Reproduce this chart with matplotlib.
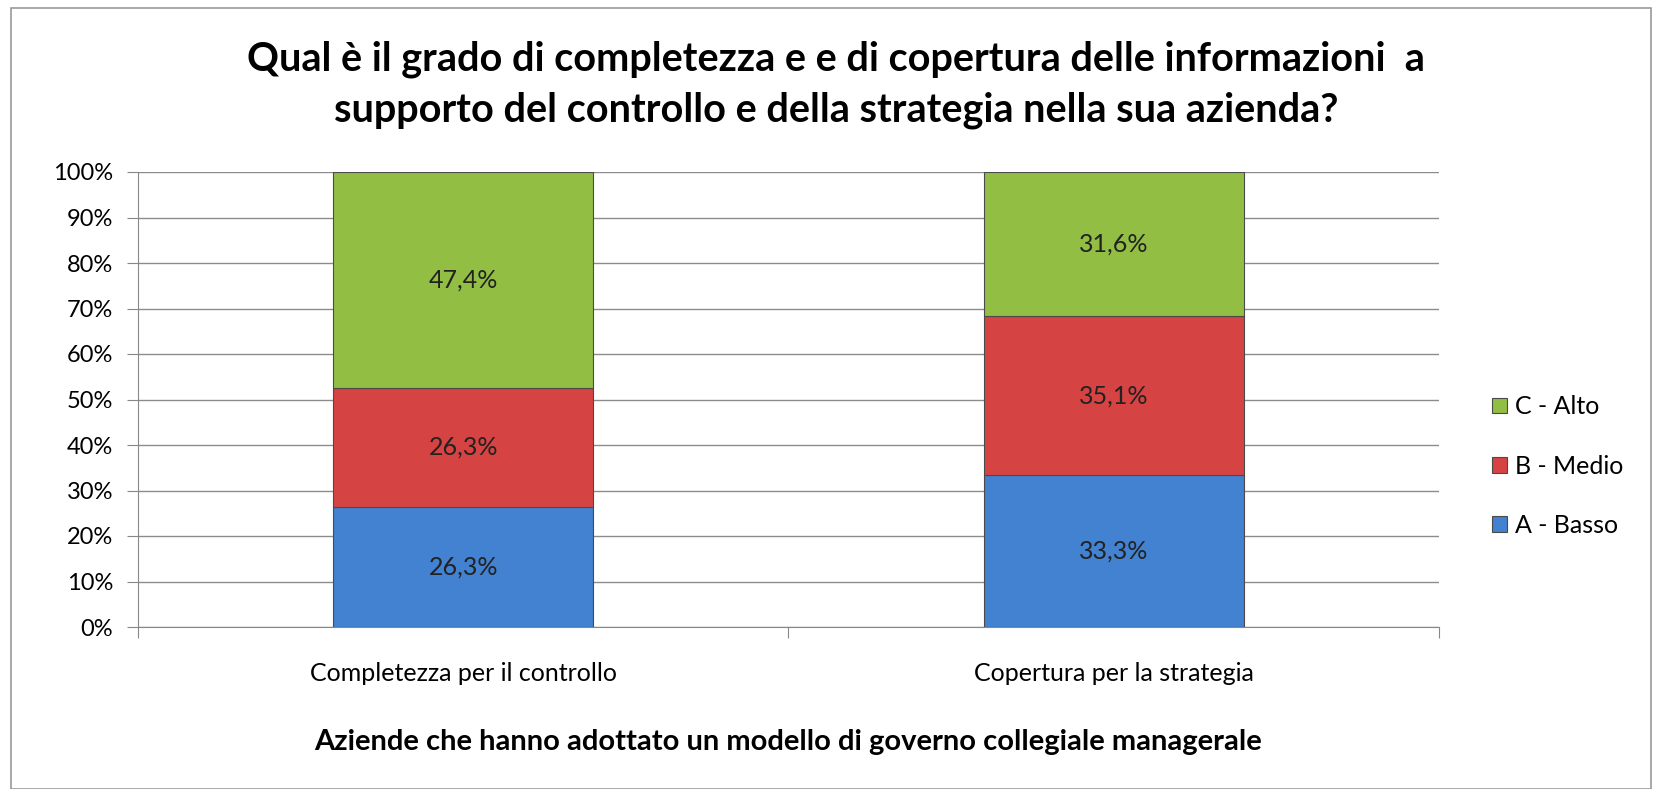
import matplotlib.pyplot as plt
from matplotlib.patches import Rectangle

categories = ['Completezza per il controllo', 'Copertura per la strategia']
series = ['A - Basso', 'B - Medio', 'C - Alto']
basso = [26.3, 33.3]
medio = [26.3, 35.1]
alto = [47.4, 31.6]
colors = ['#4282D0', '#D64343', '#92BE44']

plt.rcParams['font.family'] = ['Lato', 'DejaVu Sans']

fig = plt.figure(figsize=(16.65, 7.89), dpi=100)
ax = fig.add_axes([138 / 1665, 1 - 627 / 789, 1301 / 1665, 455 / 789])

x = range(len(categories))
bottom = [0, 0]
handles = []
for name, vals, col in zip(series, [basso, medio, alto], colors):
    bars = ax.bar(x, vals, width=0.4, bottom=bottom, color=col,
                  edgecolor='#4a4a4a', linewidth=0.8, zorder=3, label=name)
    handles.append(bars)
    for xi, v, b in zip(x, vals, bottom):
        ax.text(xi, b + v / 2, ('%.1f%%' % v).replace('.', ','),
                ha='center', va='center', fontsize=18, color='#222222', zorder=4)
    bottom = [b + v for b, v in zip(bottom, vals)]

ax.set_xlim(-0.5, 1.5)
ax.set_ylim(0, 100)
ax.set_yticks(range(0, 101, 10))
ax.set_yticklabels(['%d%%' % t for t in range(0, 101, 10)], fontsize=17)
ax.set_xticks([-0.5, 0.5, 1.5], minor=False)
ax.set_xticklabels([])
ax.set_xticks(list(x), minor=True)
ax.set_xticklabels(categories, minor=True, fontsize=18)
ax.tick_params(axis='x', which='minor', length=0, pad=25)
ax.tick_params(axis='x', which='major', length=8, color='#888888', direction='out')
ax.tick_params(axis='y', length=8, color='#888888', direction='out', pad=10)
ax.yaxis.grid(True, color='#8c8c8c', linewidth=1.0, zorder=0)
for s in ['top', 'right']:
    ax.spines[s].set_visible(False)
ax.spines['left'].set_color('#888888')
ax.spines['bottom'].set_color('#888888')

ax.set_xlabel('Aziende che hanno adottato un modello di governo collegiale managerale',
              fontsize=21, fontweight='bold', labelpad=32)

fig.text(0.502, 1 - 85 / 789,
         'Qual è il grado di completezza e e di copertura delle informazioni  a\n'
         'supporto del controllo e della strategia nella sua azienda?',
         ha='center', va='center', fontsize=28.5, fontweight='bold', linespacing=1.45)

leg = fig.legend(handles[::-1], series[::-1], loc='center left',
                 bbox_to_anchor=(1470 / 1665, 1 - 466 / 789), frameon=False,
                 fontsize=18, handlelength=0.6, handleheight=0.6,
                 handletextpad=0.3, labelspacing=1.45)

fig.patches.append(Rectangle((11 / 1665, 0.0), 1640 / 1665, 1 - 8 / 789,
                             transform=fig.transFigure, fill=False,
                             edgecolor='#9a9a9a', linewidth=1.2))

fig.savefig('out.png', dpi=100)
